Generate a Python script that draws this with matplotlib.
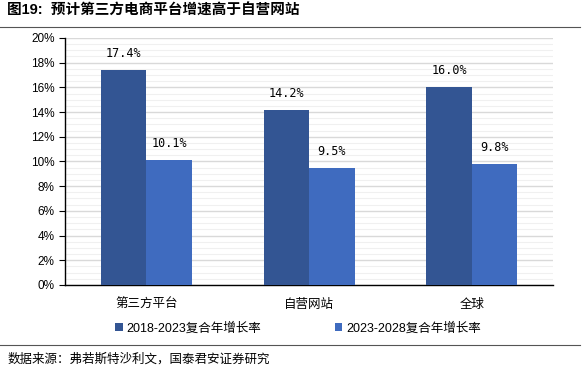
import numpy as np
import matplotlib.pyplot as plt
from matplotlib.ticker import MultipleLocator, PercentFormatter
from matplotlib.lines import Line2D

# 数据
categorias = ['第三方平台', '自营网站', '全球']
serie_a = [17.4, 14.2, 16.0]
serie_b = [10.1, 9.5, 9.8]
nomes = ['2018-2023复合年增长率', '2023-2028复合年增长率']

fam = ['Liberation Sans', 'Noto Sans CJK SC']
plt.rcParams['font.family'] = fam

fig = plt.figure(figsize=(5.86, 3.72), dpi=100)
ax = fig.add_axes([0.111, 0.234, 0.833, 0.664])

x = np.arange(len(categorias))
w = 0.28
b1 = ax.bar(x - w / 2, serie_a, w, color='#335593', label=nomes[0], zorder=3)
b2 = ax.bar(x + w / 2, serie_b, w, color='#3F6BBF', label=nomes[1], zorder=3)

for barras in (b1, b2):
    for r in barras:
        h = r.get_height()
        ax.text(r.get_x() + r.get_width() / 2, h + 0.8, f'{h:.1f}%',
                ha='center', va='bottom', fontsize=8.5, family='DejaVu Sans Mono')

ax.set_xlim(-0.5, 2.5)
ax.set_ylim(0, 20)
ax.yaxis.set_major_locator(MultipleLocator(2))
ax.yaxis.set_minor_locator(MultipleLocator(0.5))
ax.yaxis.set_major_formatter(PercentFormatter(decimals=0))
ax.grid(axis='y', which='major', color='#d9d9d9', lw=1.0, zorder=0)
ax.grid(axis='y', which='minor', color='#f0f0f0', lw=0.8, zorder=0)
ax.tick_params(axis='y', which='minor', length=0)
ax.tick_params(axis='y', which='major', labelsize=8.5, length=4, direction='out')
ax.tick_params(axis='x', length=0, labelsize=9, pad=10)
ax.set_xticks(x)
ax.set_xticklabels(categorias)
for s in ('top', 'right'):
    ax.spines[s].set_visible(False)
for s in ('left', 'bottom'):
    ax.spines[s].set_color('#000000')
    ax.spines[s].set_linewidth(1.0)

ax.legend(loc='center', bbox_to_anchor=(0.477, -0.175), ncol=2, frameon=False,
          fontsize=9, handlelength=0.6, handleheight=0.6, handletextpad=0.3,
          columnspacing=5.9)

# título e fonte
fig.text(0.012, 0.972, '图19:  预计第三方电商平台增速高于自营网站', fontsize=10.5,
         fontweight='bold', va='center', ha='left')
fig.add_artist(Line2D([0.0, 0.99], [0.927, 0.927], color='#555555', lw=0.8))
fig.add_artist(Line2D([0.0, 0.99], [0.073, 0.073], color='#555555', lw=0.8))
fig.text(0.012, 0.035, '数据来源：弗若斯特沙利文，国泰君安证券研究', fontsize=9,
         va='center', ha='left')

fig.savefig('out.png', dpi=100)
